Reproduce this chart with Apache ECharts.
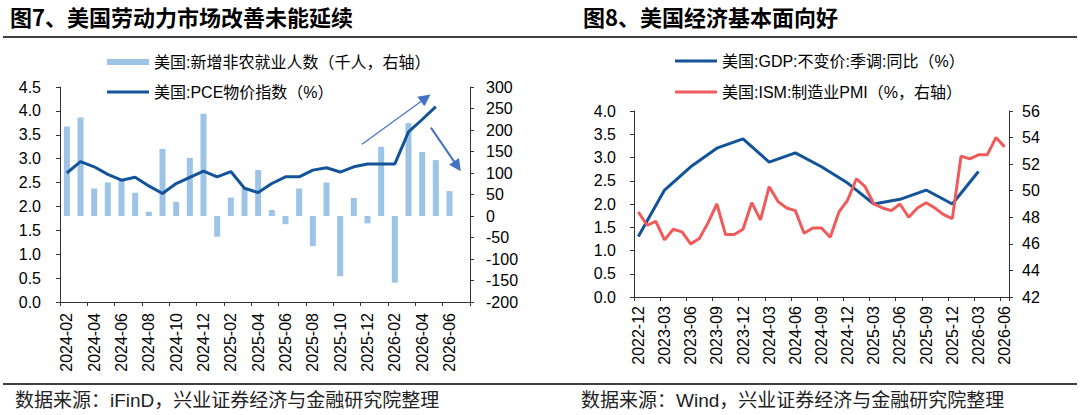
<!DOCTYPE html>
<html><head><meta charset="utf-8">
<script src="https://cdn.jsdelivr.net/npm/echarts@6/dist/echarts.min.js"></script>
<style>html,body{margin:0;padding:0;background:#fff}#c{width:1080px;height:415px}</style>
</head><body><div id="c"></div>
<script>
// ---------- Figure 7 data ----------
const months7 = ['2024-02','2024-03','2024-04','2024-05','2024-06','2024-07','2024-08','2024-09','2024-10','2024-11','2024-12','2025-01','2025-02','2025-03','2025-04','2025-05','2025-06','2025-07','2025-08','2025-09','2025-10','2025-11','2025-12','2026-01','2026-02','2026-03','2026-04','2026-05','2026-06','2026-07'];
const payrolls = [208,229,64,78,83,54,10,156,33,135,238,-48,43,64,107,14,-19,64,-70,78,-140,42,-17,161,-155,216,149,130,58,null];
const pce = [2.70,2.94,2.83,2.67,2.55,2.61,2.43,2.27,2.48,2.61,2.74,2.62,2.73,2.38,2.29,2.48,2.62,2.62,2.76,2.81,2.72,2.83,2.89,2.89,2.89,3.56,3.82,4.09,null,null];
const leftTicks7 = [0, 4.5, 0.5];      // min, max, interval
const rightTicks7 = [-200, 300, 50];
// annotation arrows in data units: [category position, PCE value]
const arrowFrom = [[21.6, 3.30], [26.64, 3.65]];
const arrowTo = [[26.26, 4.27], [28.58, 2.84]];

// ---------- Figure 8 data ----------
const months8 = ['2022-12','2023-01','2023-02','2023-03','2023-04','2023-05','2023-06','2023-07','2023-08','2023-09','2023-10','2023-11','2023-12','2024-01','2024-02','2024-03','2024-04','2024-05','2024-06','2024-07','2024-08','2024-09','2024-10','2024-11','2024-12','2025-01','2025-02','2025-03','2025-04','2025-05','2025-06','2025-07','2025-08','2025-09','2025-10','2025-11','2025-12','2026-01','2026-02','2026-03','2026-04','2026-05','2026-06'];
const gdpQuarters = ['2022-12','2023-03','2023-06','2023-09','2023-12','2024-03','2024-06','2024-09','2024-12','2025-03','2025-06','2025-09','2025-12','2026-03'];
const gdp = [1.3,2.3,2.8,3.2,3.4,2.9,3.1,2.8,2.45,2.0,2.1,2.3,2.0,2.7];
const pmi = [48.4,47.4,47.7,46.3,47.1,46.9,46.0,46.4,47.6,49.0,46.7,46.7,47.1,49.1,47.8,50.3,49.2,48.7,48.5,46.8,47.2,47.2,46.5,48.4,49.3,50.9,50.3,49.0,48.7,48.5,49.0,48.0,48.7,49.1,48.7,48.2,47.9,52.6,52.4,52.7,52.7,54.0,53.3];
const leftTicks8 = [0, 4, 0.5];
const rightTicks8 = [42, 56, 2];

const names = {
  pay: '美国:新增非农就业人数（千人，右轴）',
  pce: '美国:PCE物价指数（%）',
  gdp: '美国:GDP:不变价:季调:同比（%）',
  pmi: '美国:ISM:制造业PMI（%，右轴）'
};

const LAT = "'Liberation Sans','Noto Sans CJK SC',sans-serif";
const CJK = "'Noto Sans CJK SC','Liberation Sans',sans-serif";
const AX = '#333';
const BLUE = '#12539A', RED = '#EF5B5B', BARC = '#9DC3E6', ARROW = '#4472C4';
const axisBase = {
  axisLine: {show: true, onZero: false, lineStyle: {color: AX, width: 1}},
  axisTick: {show: true, length: 4, lineStyle: {color: AX}},
  splitLine: {show: false},
};
function yAxis(grid, pos, t, margin, fmt) {
  return Object.assign({}, axisBase, {
    type: 'value', gridIndex: grid, position: pos, min: t[0], max: t[1], interval: t[2],
    axisLabel: {margin: margin, fontSize: 16, color: '#000', fontFamily: LAT, formatter: fmt}
  });
}
function catAxis(grid, data, itv, margin) {
  return Object.assign({}, axisBase, {
    type: 'category', gridIndex: grid, data: data, boundaryGap: true,
    axisTick: {show: true, length: 4, interval: itv, lineStyle: {color: AX}},
    axisLabel: {interval: itv, rotate: 90, margin: margin, fontSize: 16, color: '#000', fontFamily: LAT}
  });
}
const legendText = {fontSize: 16, color: '#000', fontFamily: LAT};
function legend(name, left, top, h) {
  return {data: [name], left: left, top: top, padding: 0, itemWidth: 42, itemHeight: h, icon: 'rect', textStyle: legendText};
}

const chart = echarts.init(document.getElementById('c'), null, {renderer: 'svg', width: 1080, height: 415});
chart.setOption({
  animation: false,
  backgroundColor: '#fff',
  title: [
    {text: '图7、美国劳动力市场改善未能延续', left: 10, top: 5, padding: 0, textStyle: {fontSize: 22, fontWeight: 'bold', color: '#000', fontFamily: CJK}},
    {text: '图8、美国经济基本面向好', left: 583, top: 5, padding: 0, textStyle: {fontSize: 22, fontWeight: 'bold', color: '#000', fontFamily: CJK}},
    {text: '数据来源：iFinD，兴业证券经济与金融研究院整理', left: 15, top: 391, padding: 0, textStyle: {fontSize: 19, fontWeight: 'normal', color: '#222', fontFamily: LAT}},
    {text: '数据来源：Wind，兴业证券经济与金融研究院整理', left: 581, top: 391, padding: 0, textStyle: {fontSize: 19, fontWeight: 'normal', color: '#222', fontFamily: LAT}}
  ],
  graphic: [
    {type: 'line', shape: {x1: 3, y1: 37, x2: 1077, y2: 37}, style: {stroke: '#000', lineWidth: 1.5}},
    {type: 'line', shape: {x1: 3, y1: 384, x2: 1077, y2: 384}, style: {stroke: '#000', lineWidth: 1.5}}
  ],
  legend: [
    legend(names.pay, 107, 54, 6),
    legend(names.pce, 107, 84, 3),
    legend(names.gdp, 675, 53, 3),
    legend(names.pmi, 675, 84, 3)
  ],
  grid: [
    {left: 60, top: 87, width: 410, height: 215},
    {left: 634, top: 111, width: 375, height: 186}
  ],
  xAxis: [
    catAxis(0, months7, 1, 11),
    {type: 'value', gridIndex: 0, show: false, min: -0.5, max: months7.length - 0.5},
    catAxis(1, months8, 2, 9)
  ],
  yAxis: [
    yAxis(0, 'left', leftTicks7, 19, v => v.toFixed(1)),
    yAxis(0, 'right', rightTicks7, 16, v => String(v)),
    yAxis(1, 'left', leftTicks8, 18, v => v.toFixed(1)),
    yAxis(1, 'right', rightTicks8, 13, v => String(v))
  ],
  series: [
    {name: names.pay, type: 'bar', xAxisIndex: 0, yAxisIndex: 1, data: payrolls, barWidth: 6,
     itemStyle: {color: BARC}},
    {name: names.pce, type: 'line', xAxisIndex: 0, yAxisIndex: 0, data: pce, symbol: 'none',
     lineStyle: {color: BLUE, width: 3}, itemStyle: {color: BLUE}},
    {type: 'line', xAxisIndex: 1, yAxisIndex: 0, data: [], silent: true,
     markLine: {silent: true, symbol: ['none', 'triangle'], symbolSize: 12, label: {show: false},
       lineStyle: {color: ARROW, type: 'solid'}, itemStyle: {color: ARROW},
       data: arrowFrom.map((f, i) => [{coord: f, lineStyle: {width: i === 0 ? 1.2 : 2}}, {coord: arrowTo[i]}])}},
    {name: names.gdp, type: 'line', xAxisIndex: 2, yAxisIndex: 2, data: gdpQuarters.map((q, i) => [q, gdp[i]]),
     symbol: 'none', lineStyle: {color: BLUE, width: 3}, itemStyle: {color: BLUE}},
    {name: names.pmi, type: 'line', xAxisIndex: 2, yAxisIndex: 3, data: pmi, symbol: 'none',
     lineStyle: {color: RED, width: 3}, itemStyle: {color: RED}}
  ]
});
</script></body></html>
